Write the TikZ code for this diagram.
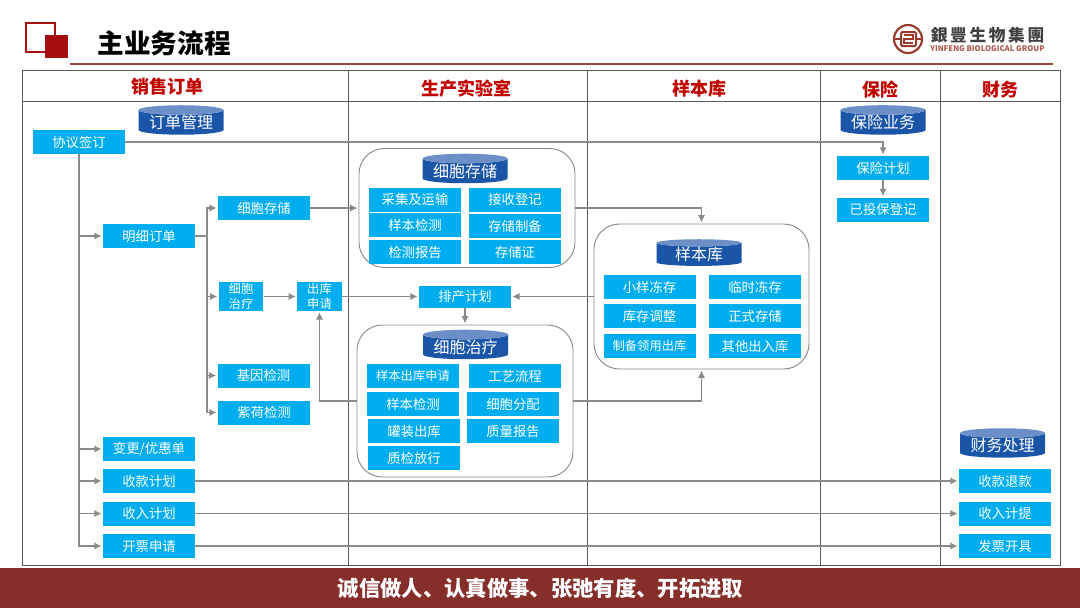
\documentclass[tikz,border=0pt]{standalone}
\usepackage{fontspec}
\setmainfont{Noto Sans CJK SC}
\usetikzlibrary{shapes.geometric,arrows.meta}
\definecolor{boxblue}{HTML}{00AEEF}
\definecolor{drumblue}{HTML}{1A55A8}
\definecolor{drumtop}{HTML}{6C8FC8}
\definecolor{headred}{HTML}{C00000}
\definecolor{barred}{HTML}{852E2A}
\definecolor{markred}{HTML}{A50F0F}
\definecolor{rulered}{HTML}{A0453F}
\definecolor{flowgray}{HTML}{8A8A8A}
\definecolor{logored}{HTML}{9B3A2E}

\begin{document}
\begin{tikzpicture}%
        [x=0.75pt,
        y=-0.75pt,
        box/.style={fill=boxblue, text=white, inner sep=0pt, minimum width=69pt, minimum height=18pt, font=\fontsize{10}{12}\selectfont},
        longbox/.style={box, font=\fontsize{9.2}{11}\selectfont},
        smallbox/.style={box, minimum width=33.5pt, minimum height=21.5pt, align=center, font=\fontsize{9.2}{11}\selectfont},
        drum/.style={cylinder, shape border rotate=90, aspect=0.15, cylinder uses custom fill, cylinder body fill=drumblue, cylinder end fill=drumtop, text=white, inner sep=0pt, minimum width=63.75pt, minimum height=20pt, font=\fontsize{12}{13}\selectfont},
        panel/.style={draw=flowgray, fill=white, rounded corners=19pt, inner sep=0pt, line width=0.7pt},
        lane/.style={text=headred, inner sep=0pt, font=\fontsize{13.5}{16}\selectfont\bfseries},
        grid/.style={color=black!65, line width=0.75pt},
        flow/.style={color=flowgray, line width=1pt, -{Latex[length=5.5pt,width=5.5pt]}, shorten >=0.8pt},
        plain/.style={color=flowgray, line width=1pt}]
    \useasboundingbox (0,0) rectangle (1080,608);
    %
    %% Drawing the page head
    \draw[markred, line width=1.5pt] (25.5,22.5) rectangle (55,51.5);
    \fill[markred] (45,35) rectangle (68,58);
    \node[inner sep=0pt, font=\fontsize{20}{24}\selectfont\bfseries] (title) at (164,43) {主业务流程};
    \draw[rulered, line width=1.6pt] (70,64) -- (1053,64);
    %
    %% Drawing the logo
    \draw[logored, line width=1.6pt] (908,39) circle (14);
    \draw[logored, line width=1.5pt, rounded corners=1pt] (901,32) rectangle (916,46);
    \draw[logored, line width=1.5pt] (894,39) -- (901,39) (916,39) -- (922,39);
    \draw[logored, line width=1.3pt] (904,35) -- (913,35) -- (913,39) -- (904,39) -- (904,43) -- (913,43);
    \node[inner sep=0pt, text=black!75, font=\fontsize{12.5}{14}\selectfont\bfseries] (logocn) at (987.5,35.5) {銀\hspace{2pt}豐\hspace{2pt}生\hspace{2pt}物\hspace{2pt}集\hspace{2pt}團};
    \node[inner sep=0pt, text=logored!85, font=\fontsize{5.8}{7}\selectfont\bfseries] (logoen) at (987.5,48.5) {YINFENG BIOLOGICAL GROUP};
    %
    %% Drawing the lanes
    \draw[grid] (22,70) rectangle (1060,565);
    \draw[grid] (22,101.5) -- (1060,101.5);
    \draw[grid] (348,70) -- (348,565);
    \draw[grid] (587,70) -- (587,565);
    \draw[grid] (820,70) -- (820,565);
    \draw[grid] (940,70) -- (940,565);
    \node[lane] (saleshead) at (167,87) {销售订单};
    \node[lane] (labhead) at (466,89) {生产实验室};
    \node[lane] (bankhead) at (699,89) {样本库};
    \node[lane] (inshead) at (880,90) {保险};
    \node[lane] (finhead) at (1000,90) {财务};
    %
    %% Drawing the panels
    \node[panel, minimum width=162pt, minimum height=89.25pt] (storepanel) at (467,208) {};
    \node[panel, minimum width=162pt, minimum height=114pt] (curepanel) at (465,401) {};
    \node[panel, minimum width=161.25pt, minimum height=108.75pt] (bankpanel) at (701.5,296.5) {};
    %
    %% Drawing the drums
    \node[drum] (orderdrum) at (181,122.5) {订单管理};
    \node[drum] (insdrum) at (883,122.5) {保险业务};
    \node[drum] (storedrum) at (465,171) {细胞存储};
    \node[drum] (curedrum) at (465.5,347) {细胞治疗};
    \node[drum] (bankdrum) at (699,254.5) {样本库};
    \node[drum] (findrum) at (1002.5,445.5) {财务处理};
    %
    %% Drawing the sales column
    \node[box] (sign) at (79,142) {协议签订};
    \node[box] (detail) at (149,236) {明细订单};
    \node[box] (change) at (149,449) {变更/优惠单};
    \node[box] (payplan) at (149,481) {收款计划};
    \node[box] (incplan) at (149,513.5) {收入计划};
    \node[box] (invoice) at (149,546) {开票申请};
    \node[box] (store) at (264,208) {细胞存储};
    \node[smallbox] (cure) at (241,296.5) {细胞\\治疗};
    \node[smallbox] (out) at (319.5,296.5) {出库\\申请};
    \node[box] (gene) at (263.5,375.5) {基因检测};
    \node[box] (flag) at (264,412.5) {紫荷检测};
    %
    %% Drawing the lab column
    \node[box, minimum height=16.5pt] (plan) at (465,296.5) {排产计划};
    \node[box] (collect) at (415,199.8) {采集及运输};
    \node[box] (receive) at (515,199.8) {接收登记};
    \node[box] (check) at (415,225) {样本检测};
    \node[box] (prepare) at (515,226) {存储制备};
    \node[box] (report) at (415,252) {检测报告};
    \node[box] (cert) at (515,252) {存储证};
    \node[longbox] (request) at (413,376) {样本出库申请};
    \node[box] (craft) at (515,376) {工艺流程};
    \node[box] (check2) at (413,404) {样本检测};
    \node[box] (assign) at (513,404) {细胞分配};
    \node[box] (can) at (414,431) {罐装出库};
    \node[box] (quality) at (513,431) {质量报告};
    \node[box] (release) at (414,458) {质检放行};
    %
    %% Drawing the bank column
    \node[box] (small) at (649.5,287) {小样冻存};
    \node[box] (temp) at (755,287) {临时冻存};
    \node[box] (adjust) at (649.5,316) {库存调整};
    \node[box] (formal) at (755,316) {正式存储};
    \node[longbox] (prep) at (649.5,346) {制备领用出库};
    \node[box] (other) at (755,346) {其他出入库};
    %
    %% Drawing the insurance and finance columns
    \node[box] (insplan) at (883,168) {保险计划};
    \node[box] (insdone) at (883,209.5) {已投保登记};
    \node[box] (refund) at (1005,481) {收款退款};
    \node[box] (accrue) at (1005,513.5) {收入计提};
    \node[box] (bill) at (1005,546) {发票开具};
    %
    %% Drawing the connectors
    \coordinate (detailtrunk) at (207,236);
    \draw[flow] (sign.east) -| (insplan.north);
    \draw[flow] (insplan.south) -- (insdone.north);
    \draw[flow] (sign.south) |- (detail.west);
    \draw[flow] (sign.south) |- (change.west);
    \draw[flow] (sign.south) |- (payplan.west);
    \draw[flow] (sign.south) |- (incplan.west);
    \draw[flow] (sign.south) |- (invoice.west);
    \draw[plain] (detail.east) -- (detailtrunk);
    \draw[flow] (detailtrunk) |- (store.west);
    \draw[flow] (detailtrunk) |- (cure.west);
    \draw[flow] (detailtrunk) |- (gene.west);
    \draw[flow] (detailtrunk) |- (flag.west);
    \draw[flow] (store.east) -- (storepanel.west);
    \draw[flow] (cure.east) -- (out.west);
    \draw[flow] (out.east) -- (plan.west);
    \draw[flow] (bankpanel.west) -- (plan.east);
    \draw[flow] (plan.south) -- (curepanel.north);
    \draw[flow] (storepanel.east) -| (bankpanel.north);
    \draw[flow] (curepanel.east) -| (bankpanel.south);
    \draw[flow] (curepanel.west) -| (out.south);
    \draw[flow] (payplan.east) -- (refund.west);
    \draw[flow] (incplan.east) -- (accrue.west);
    \draw[flow] (invoice.east) -- (bill.west);
    %
    %% Drawing the foot
    \fill[barred] (0,568) rectangle (1080,608);
    \node[inner sep=0pt, text=white, font=\fontsize{16}{19}\selectfont\bfseries] (motto) at (540.5,588.5) {诚信做人、认真做事、张弛有度、开拓进取};
    %%
\end{tikzpicture}
\end{document}
